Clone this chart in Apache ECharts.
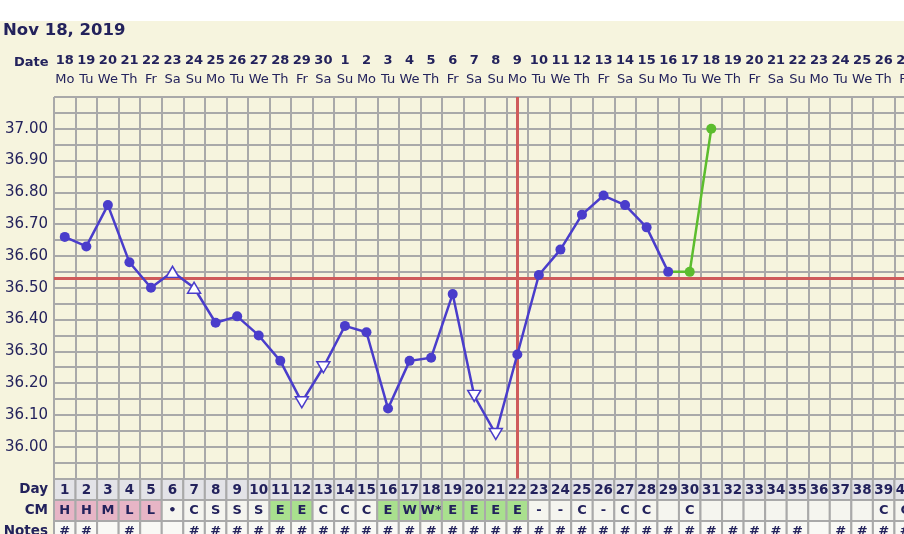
<!DOCTYPE html>
<html><head><meta charset="utf-8">
<script src="https://cdn.jsdelivr.net/npm/echarts@6/dist/echarts.min.js"></script>
<style>html,body{margin:0;padding:0;background:#f6f4de}#c{width:904px;height:534px}</style>
</head><body><div id="c"></div>
<script>
// ---- data ----
const titleText = 'Nov 18, 2019';
const cycleDays = ['1','2','3','4','5','6','7','8','9','10','11','12','13','14','15','16','17','18','19','20',
  '21','22','23','24','25','26','27','28','29','30','31','32','33','34','35','36','37','38','39','40'];
const dates = ['18','19','20','21','22','23','24','25','26','27','28','29','30','1','2','3','4','5','6','7',
  '8','9','10','11','12','13','14','15','16','17','18','19','20','21','22','23','24','25','26','27'];
const weekdays = ['Mo','Tu','We','Th','Fr','Sa','Su','Mo','Tu','We','Th','Fr','Sa','Su','Mo','Tu','We','Th','Fr','Sa',
  'Su','Mo','Tu','We','Th','Fr','Sa','Su','Mo','Tu','We','Th','Fr','Sa','Su','Mo','Tu','We','Th','Fr'];
const temps = [36.66,36.63,36.76,36.58,36.50,36.55,36.50,36.39,36.41,36.35,36.27,36.14,36.25,36.38,36.36,
  36.12,36.27,36.28,36.48,36.16,36.04,36.29,36.54,36.62,36.73,36.79,36.76,36.69,36.55,36.55,37.00];
// temperature flags: 'n' normal, 'up' open up-triangle, 'dn' open down-triangle
const tempFlags = ['n','n','n','n','n','up','up','n','n','n','n','dn','dn','n','n','n','n','n','n','dn','dn',
  'n','n','n','n','n','n','n','n','n','n'];
const lastCharted = 29;      // last day of the blue (charted) series; later days are green
const coverline = 36.53;
const ovulationDay = '22';
const cm = ['H','H','M','L','L','\u2022','C','S','S','S','E','E','C','C','C','E','W','W*','E','E',
  'E','E','-','-','C','-','C','C','','C','','','','','','','','','C','C'];
const notes = ['#','#','','#','','','#','#','#','#','#','#','#','#','#','#','#','#','#','#',
  '#','#','#','#','#','#','#','#','#','#','#','#','#','#','#','','#','#','#','#'];
const tableRows = ['Day','CM','Notes'];

// ---- style ----
const NAVY = '#23225c', BLUE = '#4a3dcb', GREEN = '#5cbd2e', RED = '#cf5b5b', GRID = '#a9a9a9';
const FONT = 'DejaVu Sans';

const blueData = temps.map((t, i) => {
  if (i >= lastCharted) return null;
  const f = tempFlags[i];
  if (f === 'n') return t;
  return { value: t, symbol: 'triangle', symbolSize: [13, 11], symbolRotate: f === 'dn' ? 180 : 0,
    itemStyle: { color: '#ffffff', borderColor: BLUE, borderWidth: 1.5 } };
});
const greenData = temps.map((t, i) => {
  if (i < lastCharted - 1) return null;
  if (i === lastCharted - 1) return { value: t, symbol: 'none' };
  return t;
});
const tableData = [];
cycleDays.forEach((d, i) => tableRows.forEach((r, j) => tableData.push([i, j])));

const chart = echarts.init(document.getElementById('c'), null, { renderer: 'canvas' });
chart.setOption({
  animation: false,
  backgroundColor: '#f6f4de',
  title: { text: titleText, left: 3, top: 21, padding: 0,
    textStyle: { fontFamily: FONT, fontSize: 16.5, fontWeight: 'bold', color: NAVY, lineHeight: 20 } },
  graphic: [
    { type: 'rect', left: 0, top: 0, z: -10, shape: { width: 904, height: 21 }, style: { fill: '#ffffff' } },
    { type: 'text', left: 14, top: 56, style: { text: 'Date', font: 'bold 13px ' + FONT, fill: NAVY } }
  ],
  grid: [
    { left: 54, top: 97, width: 862, height: 381.5, outerBoundsMode: 'none' },
    { left: 54, top: 479, width: 862, height: 63, outerBoundsMode: 'none' }
  ],
  xAxis: [
    { type: 'category', gridIndex: 0, data: cycleDays, boundaryGap: true,
      axisLine: { show: false }, axisTick: { show: false }, axisLabel: { show: false },
      splitLine: { show: true, interval: 0, lineStyle: { color: GRID, width: 2 } } },
    { type: 'category', gridIndex: 0, position: 'top', data: cycleDays, boundaryGap: true,
      axisLine: { show: false }, axisTick: { show: false }, splitLine: { show: false },
      axisLabel: { interval: 0, hideOverlap: false, margin: 8, color: NAVY,
        formatter: (v, i) => '{n|' + dates[i] + '}\n{d|' + weekdays[i] + '}',
        rich: { n: { fontFamily: FONT, fontSize: 13, fontWeight: 'bold', lineHeight: 20, color: NAVY },
                d: { fontFamily: FONT, fontSize: 13, lineHeight: 18, color: NAVY } } } },
    { type: 'category', gridIndex: 1, data: cycleDays, boundaryGap: true,
      axisLine: { show: false }, axisTick: { show: false }, axisLabel: { show: false }, splitLine: { show: false } }
  ],
  yAxis: [
    { type: 'value', gridIndex: 0, min: 35.9, max: 37.1, interval: 0.05,
      axisLine: { show: false }, axisTick: { show: false },
      splitLine: { show: true, lineStyle: { color: GRID, width: 2 } },
      axisLabel: { margin: 6, color: NAVY, fontFamily: FONT, fontSize: 15,
        formatter: v => { const h = Math.round(v * 100); return (h % 10 === 0 && h >= 3600 && h <= 3700) ? (h / 100).toFixed(2) : ''; } } },
    { type: 'category', gridIndex: 1, data: tableRows, inverse: true,
      axisLine: { show: false }, axisTick: { show: false }, splitLine: { show: false },
      axisLabel: { margin: 6, color: NAVY, fontFamily: FONT, fontSize: 13.5, fontWeight: 'bold' } }
  ],
  series: [
    { type: 'line', xAxisIndex: 0, yAxisIndex: 0, data: [], silent: true,
      markLine: { silent: true, symbol: ['none', 'none'], label: { show: false },
        lineStyle: { color: RED, width: 3, type: 'solid' }, emphasis: { disabled: true },
        data: [{ yAxis: coverline }, { xAxis: ovulationDay }] } },
    { type: 'line', xAxisIndex: 0, yAxisIndex: 0, z: 9, data: greenData, connectNulls: false,
      symbol: 'circle', symbolSize: 10, showAllSymbol: true,
      lineStyle: { color: GREEN, width: 2.5 }, itemStyle: { color: GREEN } },
    { type: 'line', xAxisIndex: 0, yAxisIndex: 0, z: 10, data: blueData, connectNulls: false,
      symbol: 'circle', symbolSize: 10, showAllSymbol: true,
      lineStyle: { color: BLUE, width: 2.5 }, itemStyle: { color: BLUE } },
    { type: 'custom', xAxisIndex: 2, yAxisIndex: 1, data: tableData,
      renderItem: (params, api) => {
        const i = api.value(0), r = api.value(1);
        const p = api.coord([i, r]);
        const s = api.size([1, 1]);
        let text = '', fill = '#f7f7f1';
        if (r === 0) { text = cycleDays[i]; fill = '#e3e3e7'; }
        else if (r === 1) {
          text = cm[i];
          const c = cm[i].charAt(0);
          if (c && 'HML'.indexOf(c) >= 0) fill = '#e7b5c6';
          else if (c === 'E' || c === 'W') fill = '#a9e08e';
          else fill = '#f5f5ef';
        } else { text = notes[i]; fill = '#f9f9f5'; }
        const fs = r === 0 ? 13.5 : 13;
        return { type: 'group', children: [
          { type: 'rect', shape: { x: p[0] - s[0] / 2, y: p[1] - s[1] / 2, width: s[0], height: s[1] },
            style: { fill: fill, stroke: GRID, lineWidth: 2 } },
          { type: 'text', x: p[0], y: p[1] + 0.5,
            style: { text: text, font: 'bold ' + fs + 'px ' + FONT, fill: NAVY, align: 'center', verticalAlign: 'middle' } }
        ] };
      } }
  ]
});
</script></body></html>
